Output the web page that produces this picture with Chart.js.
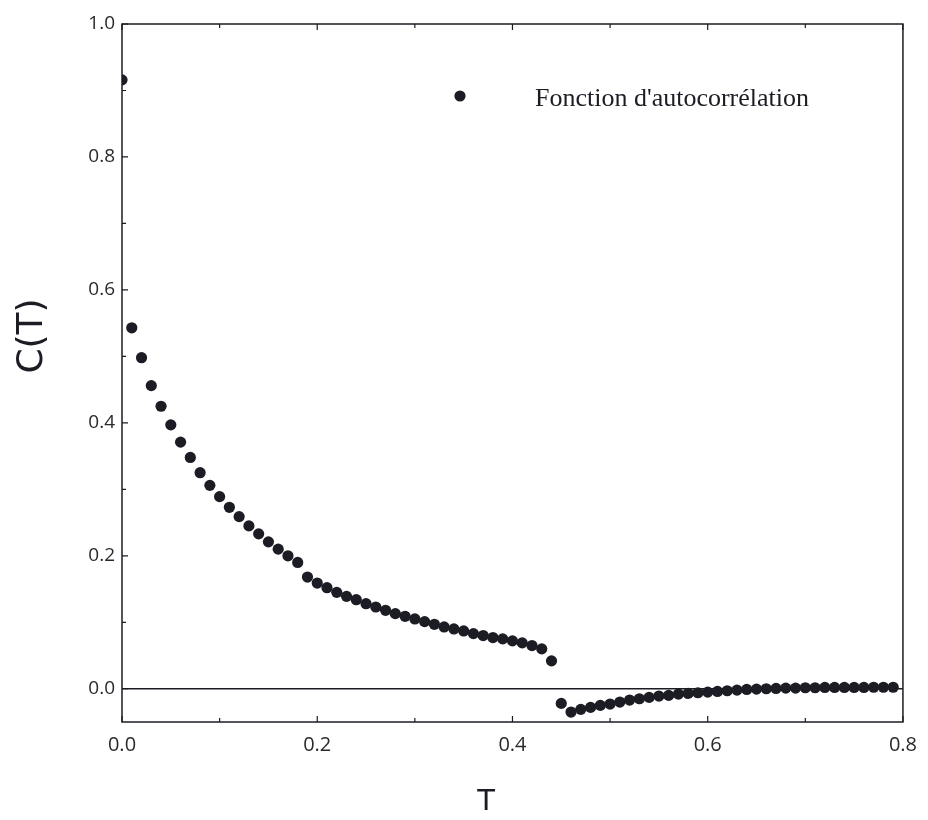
<!DOCTYPE html>
<html>
<head>
<meta charset="utf-8">
<script src="https://cdn.jsdelivr.net/npm/chart.js@4/dist/chart.umd.min.js"></script>
<style>
  html, body { margin: 0; padding: 0; background: #fff; }
  #wrap { width: 928px; height: 820px; }
</style>
</head>
<body>
<div id="wrap"><canvas id="acf"></canvas></div>
<script>
// T values (0.00 .. 0.79, step 0.01) and C(T)
var t_values = [
  0.00, 0.01, 0.02, 0.03, 0.04, 0.05, 0.06, 0.07, 0.08, 0.09,
  0.10, 0.11, 0.12, 0.13, 0.14, 0.15, 0.16, 0.17, 0.18, 0.19,
  0.20, 0.21, 0.22, 0.23, 0.24, 0.25, 0.26, 0.27, 0.28, 0.29,
  0.30, 0.31, 0.32, 0.33, 0.34, 0.35, 0.36, 0.37, 0.38, 0.39,
  0.40, 0.41, 0.42, 0.43, 0.44, 0.45, 0.46, 0.47, 0.48, 0.49,
  0.50, 0.51, 0.52, 0.53, 0.54, 0.55, 0.56, 0.57, 0.58, 0.59,
  0.60, 0.61, 0.62, 0.63, 0.64, 0.65, 0.66, 0.67, 0.68, 0.69,
  0.70, 0.71, 0.72, 0.73, 0.74, 0.75, 0.76, 0.77, 0.78, 0.79
];
var c_values = [
  0.916, 0.543, 0.498, 0.456, 0.425, 0.397, 0.371, 0.348, 0.325, 0.306,
  0.289, 0.273, 0.259, 0.245, 0.233, 0.221, 0.210, 0.200, 0.190, 0.168,
  0.159, 0.152, 0.145, 0.139, 0.134, 0.128, 0.123, 0.118, 0.113, 0.109,
  0.105, 0.101, 0.097, 0.093, 0.090, 0.087, 0.083, 0.080, 0.077, 0.075,
  0.072, 0.069, 0.065, 0.060, 0.042, -0.022, -0.035, -0.031, -0.028, -0.025,
  -0.023, -0.020, -0.017, -0.015, -0.013, -0.011, -0.010, -0.008, -0.007, -0.006,
  -0.005, -0.004, -0.003, -0.002, -0.001, -0.0005, 0.000, 0.0005, 0.001, 0.001,
  0.0015, 0.0015, 0.002, 0.002, 0.002, 0.002, 0.002, 0.0023, 0.0023, 0.0023
];

var x_ticks = [0, 0.2, 0.4, 0.6, 0.8];
var x_minor = [0.1, 0.3, 0.5, 0.7];
var y_ticks = [0, 0.2, 0.4, 0.6, 0.8, 1.0];
var y_minor = [0.1, 0.3, 0.5, 0.7, 0.9];

var series_label = "Fonction d'autocorrélation";
var x_title = "T";
var y_title = "C(T)";

var ink = "#1c1c24";

var points = [];
for (var i = 0; i < t_values.length; i++) {
  points.push({ x: t_values[i], y: c_values[i] });
}

// frame, inward ticks, titles and legend drawn around the chart area
var frame_plugin = {
  id: "frame",
  afterDraw: function (chart) {
    var c = chart.ctx;
    var a = chart.chartArea;
    var xs = chart.scales.x;
    var ys = chart.scales.y;
    c.save();
    c.strokeStyle = ink;
    c.lineWidth = 1.5;
    c.strokeRect(a.left, a.top, a.right - a.left, a.bottom - a.top);

    c.lineWidth = 1.2;
    c.beginPath();
    x_ticks.concat(x_minor).forEach(function (v) {
      var px = xs.getPixelForValue(v);
      var len = x_minor.indexOf(v) >= 0 ? 4 : 6;
      c.moveTo(px, a.bottom); c.lineTo(px, a.bottom - len);
      c.moveTo(px, a.top); c.lineTo(px, a.top + len);
    });
    y_ticks.concat(y_minor).forEach(function (v) {
      var py = ys.getPixelForValue(v);
      var len = y_minor.indexOf(v) >= 0 ? 4 : 6;
      c.moveTo(a.left, py); c.lineTo(a.left + len, py);
    });
    c.stroke();

    // axis titles
    c.fillStyle = ink;
    c.textAlign = "center";
    c.textBaseline = "middle";
    c.font = "29px 'DejaVu Sans'";
    c.fillText(x_title, 486, 802);
    c.translate(33, 336);
    c.rotate(-Math.PI / 2);
    c.font = "36px 'DejaVu Sans'";
    c.fillText(y_title, 0, 0);
    c.restore();

    // legend inside the plot
    c.save();
    c.fillStyle = ink;
    c.beginPath();
    c.arc(460, 96, 5.6, 0, Math.PI * 2);
    c.fill();
    c.font = "26px 'Liberation Serif'";
    c.textAlign = "left";
    c.textBaseline = "middle";
    c.fillText(series_label, 535, 99);
    c.restore();
  }
};

var ctx = document.getElementById("acf").getContext("2d");

var chart = new Chart(ctx, {
  type: "scatter",
  data: {
    datasets: [{
      label: series_label,
      data: points,
      backgroundColor: ink,
      borderColor: ink,
      pointRadius: 5.6,
      pointHoverRadius: 5.6,
      borderWidth: 0
    }]
  },
  options: {
    responsive: true,
    maintainAspectRatio: false,
    animation: false,
    layout: {
      padding: { top: 24, right: 21, left: 0, bottom: 0 }
    },
    plugins: {
      legend: { display: false },
      tooltip: { enabled: false }
    },
    scales: {
      x: {
        type: "linear",
        min: 0,
        max: 0.8,
        afterBuildTicks: function (scale) {
          scale.ticks = x_ticks.map(function (v) { return { value: v }; });
        },
        afterFit: function (scale) { scale.height = 98; },
        grid: { display: false, drawTicks: false },
        border: { display: false },
        ticks: {
          padding: 11,
          color: "#2a2a2a",
          font: { family: "'Open Sans'", size: 20 },
          maxRotation: 0,
          callback: function (v) { return Number(v).toFixed(1); }
        }
      },
      y: {
        type: "linear",
        min: -0.05,
        max: 1.0,
        afterBuildTicks: function (scale) {
          scale.ticks = y_ticks.map(function (v) { return { value: v }; });
        },
        afterFit: function (scale) { scale.width = 122; },
        grid: {
          drawTicks: false,
          color: function (c) { return c.tick && c.tick.value === 0 ? ink : "rgba(0,0,0,0)"; },
          lineWidth: 1.5
        },
        border: { display: false },
        ticks: {
          padding: 7,
          color: "#2a2a2a",
          font: { family: "'Open Sans'", size: 19 },
          callback: function (v) { return Number(v).toFixed(1); }
        }
      }
    }
  },
  plugins: [frame_plugin]
});
</script>
</body>
</html>
